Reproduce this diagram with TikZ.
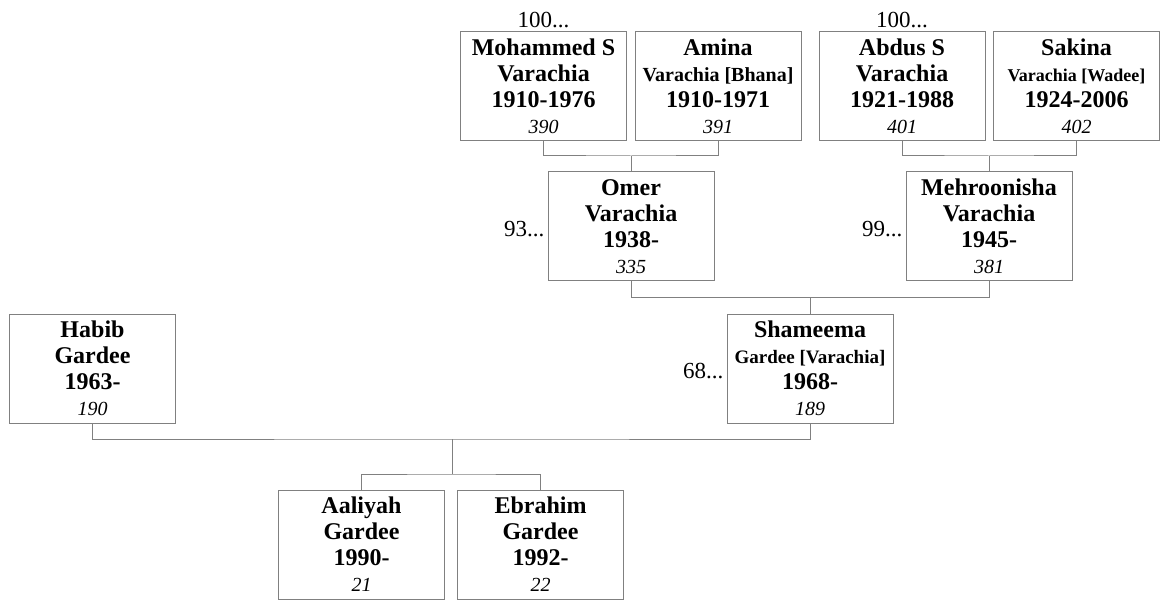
\documentclass[tikz,border=0pt]{standalone}
\usepackage{fontspec}
\setmainfont{Liberation Serif}
\usepackage{tikz}

\definecolor{linegray}{RGB}{128,128,128}
\newcommand{\idno}[1]{{\fontsize{20}{26}\selectfont\mdseries\itshape #1}}
\newcommand{\maiden}[2]{{\fontsize{#1}{26}\selectfont #2}}

\begin{document}
\begin{tikzpicture}[
x                       = 1pt,
y                       = -1pt,
every node/.style       = {font=\fontsize{24}{26}\selectfont\bfseries},
treenode/.style         = {rectangle, draw=linegray, line width=1pt, align=center,
                           minimum width=166pt, minimum height=109pt,
                           inner xsep=2pt, inner ysep=0pt},
gen/.style              = {font=\fontsize{23}{26}\selectfont\mdseries, inner sep=3pt},
link/.style             = {draw=linegray, line width=1pt}
]

\useasboundingbox (0,0) rectangle (1166,601);

% grandparents
\node [treenode, label={[gen]above:100...}] (moh) at (543.5,86) {Mohammed S\\Varachia\\1910-1976\\\idno{390}};
\node [treenode] (ami) at (718,86) {Amina\\\maiden{20}{Varachia [Bhana]}\\1910-1971\\\idno{391}};
\node [treenode, label={[gen]above:100...}] (abd) at (902,86) {Abdus S\\Varachia\\1921-1988\\\idno{401}};
\node [treenode] (sak) at (1076.5,86) {Sakina\\\maiden{18}{Varachia [Wadee]}\\1924-2006\\\idno{402}};

% parents
\node [treenode, label={[gen, yshift=-3pt]left:93...}] (ome) at (631,226.5) {Omer\\Varachia\\1938-\\\idno{335}};
\node [treenode, label={[gen, yshift=-3pt]left:99...}] (meh) at (989,226.5) {Mehroonisha\\Varachia\\1945-\\\idno{381}};

\node [treenode] (hab) at (92.5,368.5) {Habib\\Gardee\\1963-\\\idno{190}};
\node [treenode, label={[gen, yshift=-3pt]left:68...}] (sha) at (810,368.5) {Shameema\\\maiden{19}{Gardee [Varachia]}\\1968-\\\idno{189}};

% children
\node [treenode] (aal) at (361.5,544.5) {Aaliyah\\Gardee\\1990-\\\idno{21}};
\node [treenode] (ebr) at (540.5,544.5) {Ebrahim\\Gardee\\1992-\\\idno{22}};

\coordinate (j1) at (631,156);
\coordinate (j2) at (989,156);
\coordinate (j3) at (810,297.5);
\coordinate (j4) at (452,439);
\coordinate (j5) at (452,474);

\draw [link] (moh.south) |- (j1) -| (ami.south);
\draw [link] (j1) -- (ome.north);
\draw [link] (abd.south) |- (j2) -| (sak.south);
\draw [link] (j2) -- (meh.north);
\draw [link] (ome.south) |- (j3) -| (meh.south);
\draw [link] (j3) -- (sha.north);
\draw [link] (hab.south) |- (j4) -| (sha.south);
\draw [link] (j4) -- (j5);
\draw [link] (aal.north) |- (j5) -| (ebr.north);
\end{tikzpicture}
\end{document}
